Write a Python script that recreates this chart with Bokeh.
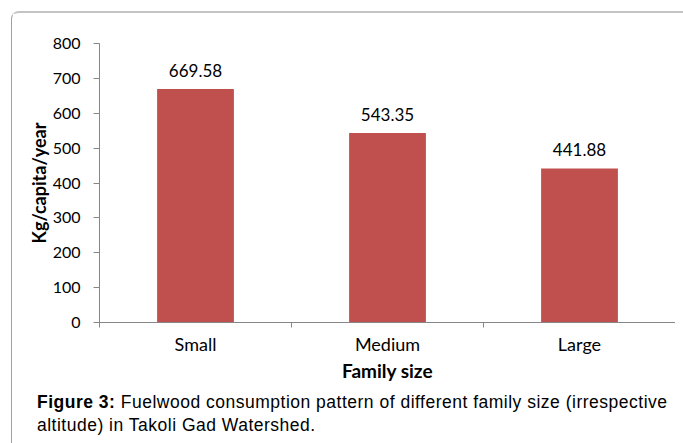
from bokeh.plotting import figure
from bokeh.layouts import column
from bokeh.models import Range1d, FixedTicker, Div
from bokeh.core.properties import value
from bokeh.embed import file_html
from bokeh.resources import INLINE

categories = ["Small", "Medium", "Large"]
values = [669.58, 543.35, 441.88]
y_ticks = [0, 100, 200, 300, 400, 500, 600, 700, 800]
y_label = "Kg/capita/year"
x_label = "Family size"
caption_bold = "Figure 3:"
caption_line1 = "Fuelwood consumption pattern of different family size (irrespective"
caption_line2 = "altitude) in Takoli Gad Watershed."

xs = [i + 0.5 for i in range(len(categories))]
labels = [f"{v:.2f}" for v in values]

p = figure(width=663, height=373, x_range=Range1d(0, len(categories)),
           y_range=Range1d(0, 800), output_backend="svg", toolbar_location=None,
           min_border_left=87, min_border_top=30, min_border_right=0,
           min_border_bottom=64)
p.outline_line_color = None
p.xgrid.visible = False
p.ygrid.visible = False
p.background_fill_color = "white"
p.border_fill_color = "white"

p.vbar(x=xs, top=values, width=0.4, fill_color="#C0504D", line_color=None)
p.text(x=xs, y=values, text=labels, text_align="center", text_baseline="bottom",
       y_offset=-12, text_font=value("Lato"), text_font_size="17px", text_color="#000000")

ax = p.yaxis[0]
ax.ticker = FixedTicker(ticks=y_ticks)
ax.axis_line_color = "#868686"
ax.major_tick_line_color = "#868686"
ax.major_tick_out = 6
ax.major_tick_in = 0
ax.minor_tick_line_color = None
ax.major_label_text_font = "Lato"
ax.major_label_text_font_size = "16px"
ax.major_label_text_color = "#000000"
ax.major_label_standoff = 13
ax.axis_label = y_label
ax.axis_label_text_font = "Lato"
ax.axis_label_text_font_style = "bold"
ax.axis_label_text_font_size = "18px"
ax.axis_label_text_color = "#000000"
ax.axis_label_standoff = 0

bx = p.xaxis[0]
bx.ticker = FixedTicker(ticks=xs, minor_ticks=list(range(len(categories) + 1)))
bx.major_label_overrides = {x: c for x, c in zip(xs, categories)}
bx.axis_line_color = "#868686"
bx.major_tick_line_color = None
bx.major_tick_out = 0
bx.major_tick_in = 0
bx.minor_tick_line_color = "#868686"
bx.minor_tick_out = 5
bx.minor_tick_in = 0
bx.major_label_text_font = "Lato"
bx.major_label_text_font_size = "18px"
bx.major_label_text_color = "#000000"
bx.major_label_standoff = 5
bx.axis_label = x_label
bx.axis_label_text_font = "Lato"
bx.axis_label_text_font_style = "bold"
bx.axis_label_text_font_size = "19px"
bx.axis_label_text_color = "#000000"
bx.axis_label_standoff = 1

div = Div(text=f"<b>{caption_bold}</b> {caption_line1}<br>{caption_line2}",
          width=671, height=49,
          styles={"font-family": "'Liberation Sans', Arial, sans-serif",
                  "font-size": "17.5px", "line-height": "22.5px",
                  "letter-spacing": "0.5px",
                  "padding-left": "20px", "padding-top": "0px", "color": "#000000"})

layout = column(p, div, spacing=0,
                styles={"margin-left": "11px", "margin-top": "11px",
                        "border-top": "2px solid #c4c4c4",
                        "border-left": "1px solid #a0a0a0",
                        "border-top-left-radius": "8px"})

open("out.html", "w").write(file_html(layout, INLINE))
